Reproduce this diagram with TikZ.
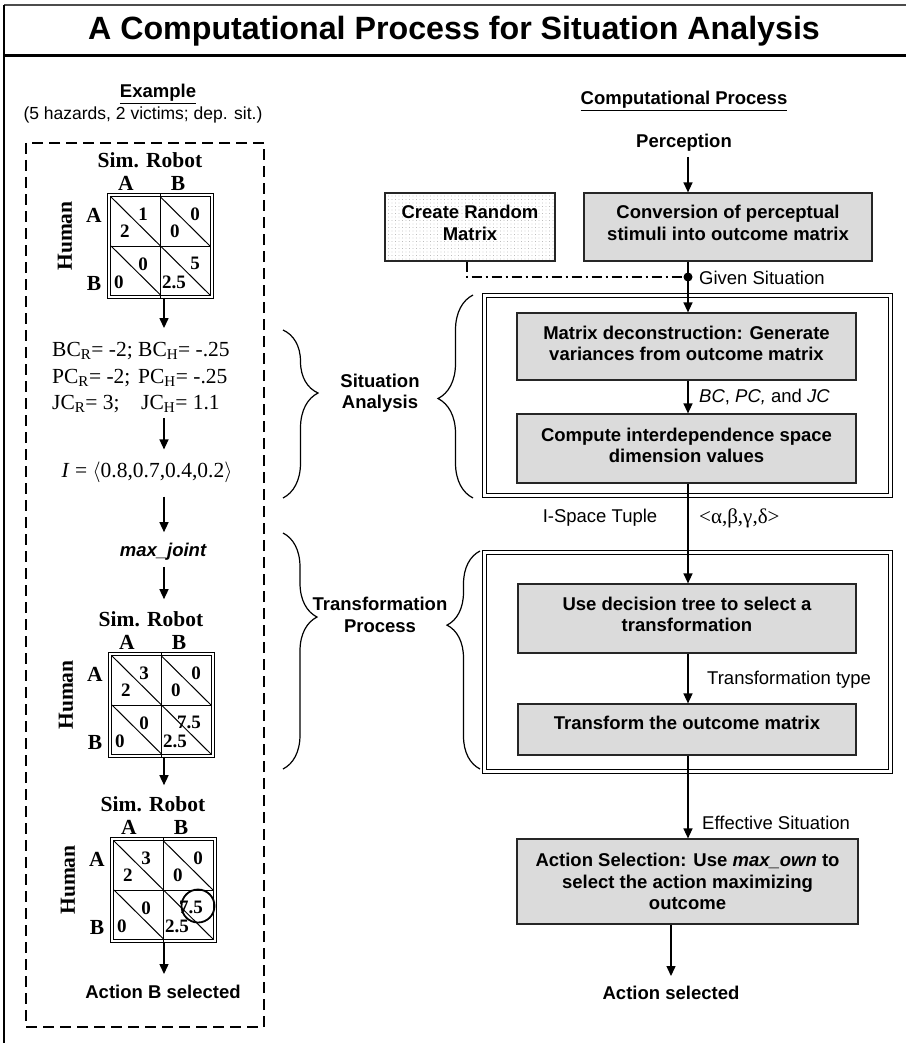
\documentclass[tikz,border=0pt]{standalone}
\usepackage{fontspec}
\setmainfont{Liberation Serif}
\setsansfont{Liberation Sans}
\usetikzlibrary{arrows.meta,decorations.pathreplacing,patterns.meta}

\newcommand\titlefont{\sffamily\bfseries\fontsize{32.2}{36}\selectfont}
\newcommand\headfont{\sffamily\bfseries\fontsize{18.5}{22}\selectfont}
\newcommand\boxfont{\sffamily\bfseries\fontsize{18.5}{21.5}\selectfont}
\newcommand\tagfont{\sffamily\fontsize{18.5}{21}\selectfont}
\newcommand\notefont{\sffamily\fontsize{17.5}{20}\selectfont}
\newcommand\matlabfont{\rmfamily\bfseries\fontsize{21.5}{22}\selectfont}
\newcommand\matnumfont{\rmfamily\bfseries\fontsize{19}{20}\selectfont}
\newcommand\varfont{\rmfamily\fontsize{21.5}{26.5}\selectfont}

\tikzset{
  conn/.style={-{Triangle[length=10pt,width=9pt]},line width=1.4pt},
  procbox/.style={draw=black!85,line width=1.2pt,fill=black!14,inner sep=0pt,
    font=\boxfont,align=center},
  tag/.style={font=\tagfont,inner sep=0pt},
  groupbox/.style={draw=black,line width=1.1pt,double=white,double distance=2.6pt,inner sep=0pt},
  grpbrace/.style 2 args={decorate,line width=1.2pt,
    decoration={brace,amplitude=#1,aspect=#2}},
  matframe/.style={draw,line width=1pt,double=white,double distance=2pt,inner sep=0pt,
    minimum width=103pt,minimum height=102pt},
  matline/.style={line width=1pt},
  matlab/.style={font=\matlabfont,inner sep=0pt},
  upper/.style={font=\matnumfont,inner sep=0pt,anchor=east},
  lower/.style={font=\matnumfont,inner sep=0pt,anchor=west},
  dashdot/.style={line width=1.2pt,dash pattern=on 10pt off 4pt on 2pt off 4pt},
}

% 2x2 outcome matrix: top-left corner of the frame is the local origin.
% Arguments: upper/lower payoff of cells AA, AB, BA, BB.
\newcommand\outcomematrix[8]{%
  \node[matframe] (frame) at (53.5,53) {};
  \draw[matline] (53.5,0) -- (53.5,106);
  \draw[matline] (4,53) -- (103,53);
  \draw[matline] (4,4) -- (53.5,53) (53.5,4) -- (103,53)
                 (4,53) -- (53.5,102) (53.5,53) -- (103,102);
  \node[matlab] (sim) at (43,-33) {Sim. Robot};
  \node[matlab] (ca) at (19,-10) {A};
  \node[matlab] (cb) at (71,-10) {B};
  \node[matlab,rotate=90] (who) at (-42,43) {Human};
  \node[matlab] (ra) at (-13,22) {A};
  \node[matlab] (rb) at (-13,90) {B};
  \node[upper] (v1) at (41,21) {#1};
  \node[lower] (v2) at (13,38) {#2};
  \node[upper] (v3) at (93,21) {#3};
  \node[lower] (v4) at (63,38) {#4};
  \node[upper] (v5) at (41,71) {#5};
  \node[lower] (v6) at (7,89) {#6};
  \node[upper] (v7) at (93,70) {#7};
  \node[lower] (v8) at (55,89) {#8};
}

\begin{document}
\begin{tikzpicture}[x=1pt,y=-1pt]
\useasboundingbox (0,0) rectangle (906,1043);
\fill[white] (0,0) rectangle (906,1043);

% page frame and title
\draw[line width=2pt,black!70] (4,5) -- (906,5);
\draw[line width=3pt] (4,56) -- (906,56);
\draw[line width=1.5pt] (4,5) -- (4,1043);
\node[font=\titlefont,inner sep=0pt] (title) at (454,31) {A Computational Process for Situation Analysis};

% ---------------- left column: worked example ----------------
\coordinate (lspine) at (164,0);
\node[font=\headfont,inner sep=0pt] (exhead) at (158,94) {\underline{Example}};
\node[font=\notefont,inner sep=0pt] (exnote) at (143,115) {(5 hazards, 2 victims; dep. sit.)};
\draw[line width=1.3pt,dash pattern=on 11pt off 6pt] (26,143) rectangle (264,1027);

\begin{scope}[shift={(107,193)},name prefix=m1-]
  \outcomematrix{1}{2}{0}{0}{0}{0}{5}{2.5}
\end{scope}

\node[font=\varfont,inner sep=0pt,anchor=west] (cv) at (52,378) {%
  \begin{tabular}{@{}l@{ }l@{}}
  BC\textsubscript{R}= -2; & BC\textsubscript{H}= -.25\\
  PC\textsubscript{R}= -2; & PC\textsubscript{H}= -.25\\
  JC\textsubscript{R}= 3;  & \hspace{3pt}JC\textsubscript{H}= 1.1
  \end{tabular}};
\node[font=\varfont,inner sep=0pt] (iv) at (147,472)
  {\textit{I} = $\bigl\langle$0.8,0.7,0.4,0.2$\bigr\rangle$};
\node[font=\sffamily\bfseries\itshape\fontsize{18.5}{22}\selectfont,inner sep=0pt] (mj) at (163,552) {max\_joint};

\begin{scope}[shift={(108,652)},name prefix=m2-]
  \outcomematrix{3}{2}{0}{0}{0}{0}{7.5}{2.5}
\end{scope}
\begin{scope}[shift={(110,837)},name prefix=m3-]
  \outcomematrix{3}{2}{0}{0}{0}{0}{7.5}{2.5}
  \node[draw,circle,line width=1.8pt,minimum size=33pt,inner sep=0pt] (pick) at (88,69) {};
\end{scope}
\node[font=\boxfont,inner sep=0pt] (chosen) at (163,992) {Action B selected};

\draw[conn,shorten >=10pt] (m1-frame.south -| lspine) -- (cv.north -| lspine);
\draw[conn,shorten >=12pt] (cv.south -| lspine) -- (iv.north -| lspine);
\draw[conn,shorten <=14pt,shorten >=11pt] (iv.south -| lspine) -- (mj.north -| lspine);
\draw[conn,shorten <=6pt,shorten >=12pt] (mj.south -| lspine) -- (m2-sim.north -| lspine);
\draw[conn,shorten >=11pt] (m2-frame.south -| lspine) -- (m3-sim.north -| lspine);
\draw[conn,shorten >=11pt] (m3-frame.south -| lspine) -- (chosen.north -| lspine);

% braces and phase names
\draw[grpbrace={35pt}{0.375}] (283,330) -- (283,498);
\draw[grpbrace={35pt}{0.49}] (473,498) -- (473,295);
\node[font=\boxfont,align=center,inner sep=0pt] (sitan) at (380,393) {Situation\\Analysis};
\draw[grpbrace={34pt}{0.356}] (283,533) -- (283,769);
\draw[grpbrace={33pt}{0.66}] (480,769) -- (480,551);
\node[font=\boxfont,align=center,inner sep=0pt] (trpro) at (380,615) {Transformation\\Process};

% ---------------- right column: computational process ----------------
\coordinate (spine) at (688,0);
\coordinate (spine2) at (671,0);
\node[font=\headfont,inner sep=0pt] (cphead) at (684,101) {\underline{Computational Process}};
\node[font=\boxfont,inner sep=0pt] (perc) at (684,143) {Perception};

\node[draw=black!85,line width=1.2pt,fill=white,
      pattern={Dots[distance=3.5pt,radius=0.35pt]},pattern color=black!40,
      minimum width=170pt,minimum height=68pt] (randbg) at (470,227) {};
\node[font=\boxfont,align=center,inner sep=0pt] (rand) at (470,223) {Create Random\\Matrix};
\node[procbox,minimum width=288pt,minimum height=68pt,
      label={[font=\boxfont,align=center,yshift=4pt]center:Conversion of perceptual\\stimuli into outcome matrix}] (conv) at (728,227) {};

\node[groupbox,minimum width=406pt,minimum height=200pt] (sa) at (687.5,395.5) {};
\node[procbox,minimum width=339pt,minimum height=67pt,
      label={[font=\boxfont,align=center,yshift=3pt]center:Matrix deconstruction: Generate\\variances from outcome matrix}] (decon) at (686.5,346.5) {};
\node[procbox,minimum width=339pt,minimum height=69pt,
      label={[font=\boxfont,align=center,yshift=3pt]center:Compute interdependence space\\dimension values}] (comp) at (686.5,448.5) {};

\node[groupbox,minimum width=406pt,minimum height=219pt] (tp) at (687.5,662) {};
\node[procbox,minimum width=338pt,minimum height=69pt,
      label={[font=\boxfont,align=center,yshift=4pt]center:Use decision tree to select a\\transformation}] (decide) at (687,618.5) {};
\node[procbox,minimum width=338pt,minimum height=51pt,
      label={[font=\boxfont,yshift=7pt]center:Transform the outcome matrix}] (transf) at (687,729.5) {};
\node[procbox,minimum width=341pt,minimum height=85pt] (act) at (687.5,881.5)
  {Action Selection: Use \textit{max\_own} to\\select the action maximizing\\outcome};
\node[font=\boxfont,inner sep=0pt] (done) at (671,993) {Action selected};

\node[circle,fill,inner sep=0pt,minimum size=9pt] (gdot) at (688,277) {};
\draw[dashdot] (randbg.south -| 467,0) |- (gdot);

\draw[conn,shorten <=5pt] (perc.south -| spine) -- (conv.north -| spine);
\draw[conn] (conv.south -| spine) -- (decon.north -| spine);
\draw[conn] (decon.south -| spine) -- (comp.north -| spine);
\draw[conn] (comp.south -| spine) -- (decide.north -| spine);
\draw[conn] (decide.south -| spine) -- (transf.north -| spine);
\draw[conn] (transf.south -| spine) -- (act.north -| spine);
\draw[conn,shorten >=10pt] (act.south -| spine2) -- (done.north -| spine2);

\node[tag,anchor=west] (given) at (699,278) {Given Situation};
\node[tag,anchor=west] (vars) at (699,397) {\textit{BC}, \textit{PC,} and \textit{JC}};
\node[tag] (ist) at (600,518) {I-Space Tuple};
\node[font=\rmfamily\fontsize{21}{24}\selectfont,inner sep=0pt,anchor=west] (tuple) at (699,518)
  {\textless α,β,γ,δ\textgreater};
\node[tag,anchor=west] (ttype) at (707,680) {Transformation type};
\node[tag,anchor=west] (eff) at (702,823) {Effective Situation};
\end{tikzpicture}
\end{document}
